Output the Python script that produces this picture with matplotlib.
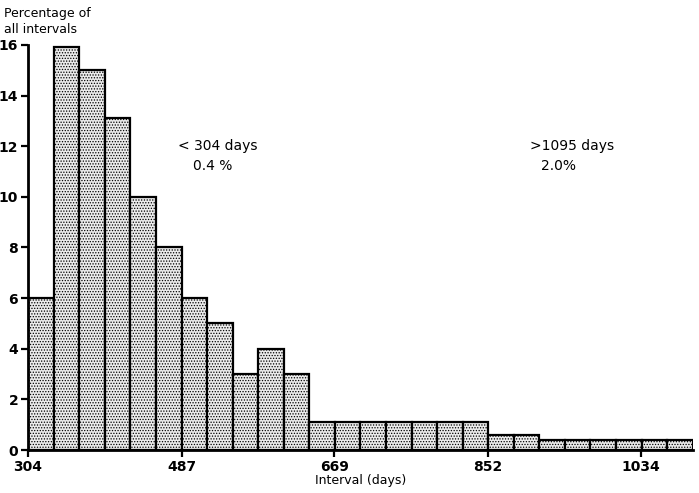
import matplotlib.pyplot as plt
import numpy as np

# interval histogram, one bar per month from 10 to 36 months
month_edges = np.arange(10, 37)
percent = [6.0, 15.9, 15.0, 13.1, 10.0, 8.0,
           6.0, 5.0, 3.0, 4.0, 3.0, 1.1,
           1.1, 1.1, 1.1, 1.1, 1.1, 1.1,
           0.6, 0.6, 0.4, 0.4, 0.4, 0.4,
           0.4, 0.4]
tick_days = [304, 487, 669, 852, 1034]
y_ticks = [0, 2, 4, 6, 8, 10, 12, 14, 16]

days_per_month = 365.25 / 12
edges = month_edges * days_per_month
lefts = edges[:-1]
widths = np.diff(edges)

plt.rcParams['font.family'] = 'DejaVu Sans'
plt.rcParams['hatch.linewidth'] = 0.6

fig = plt.figure(figsize=(6.99, 4.93), dpi=100)
ax = fig.add_axes([0.040, 0.087, 0.951, 0.822])

ax.bar(lefts, percent, width=widths, align='edge', facecolor='#ebebeb',
       edgecolor='black', linewidth=1.6, hatch='......')

ax.set_xlim(edges[0], edges[-1])
ax.set_ylim(0, 16)
ax.set_xticks(tick_days)
ax.set_xticklabels([str(d) for d in tick_days], fontsize=10, fontweight='bold')
ax.set_yticks(y_ticks)
ax.set_yticklabels([str(v) for v in y_ticks], fontsize=10, fontweight='bold')
ax.tick_params(direction='out', length=5, width=1.6, pad=2)

for side in ['top', 'right']:
    ax.spines[side].set_visible(False)
for side in ['left', 'bottom']:
    ax.spines[side].set_linewidth(2)
ax.spines['bottom'].set_zorder(3)
ax.spines['left'].set_zorder(3)

ax.set_xlabel("Interval (days)", fontsize=9, labelpad=0)
fig.text(0.006, 0.985, "Percentage of\nall intervals", fontsize=9,
         va='top', ha='left', linespacing=1.3)

ax.text(483, 12.0, "< 304 days", fontsize=10, va='center')
ax.text(500, 11.2, "0.4 %", fontsize=10, va='center')
ax.text(902, 12.0, ">1095 days", fontsize=10, va='center')
ax.text(915, 11.2, "2.0%", fontsize=10, va='center')

plt.savefig('out.png', dpi=100)
